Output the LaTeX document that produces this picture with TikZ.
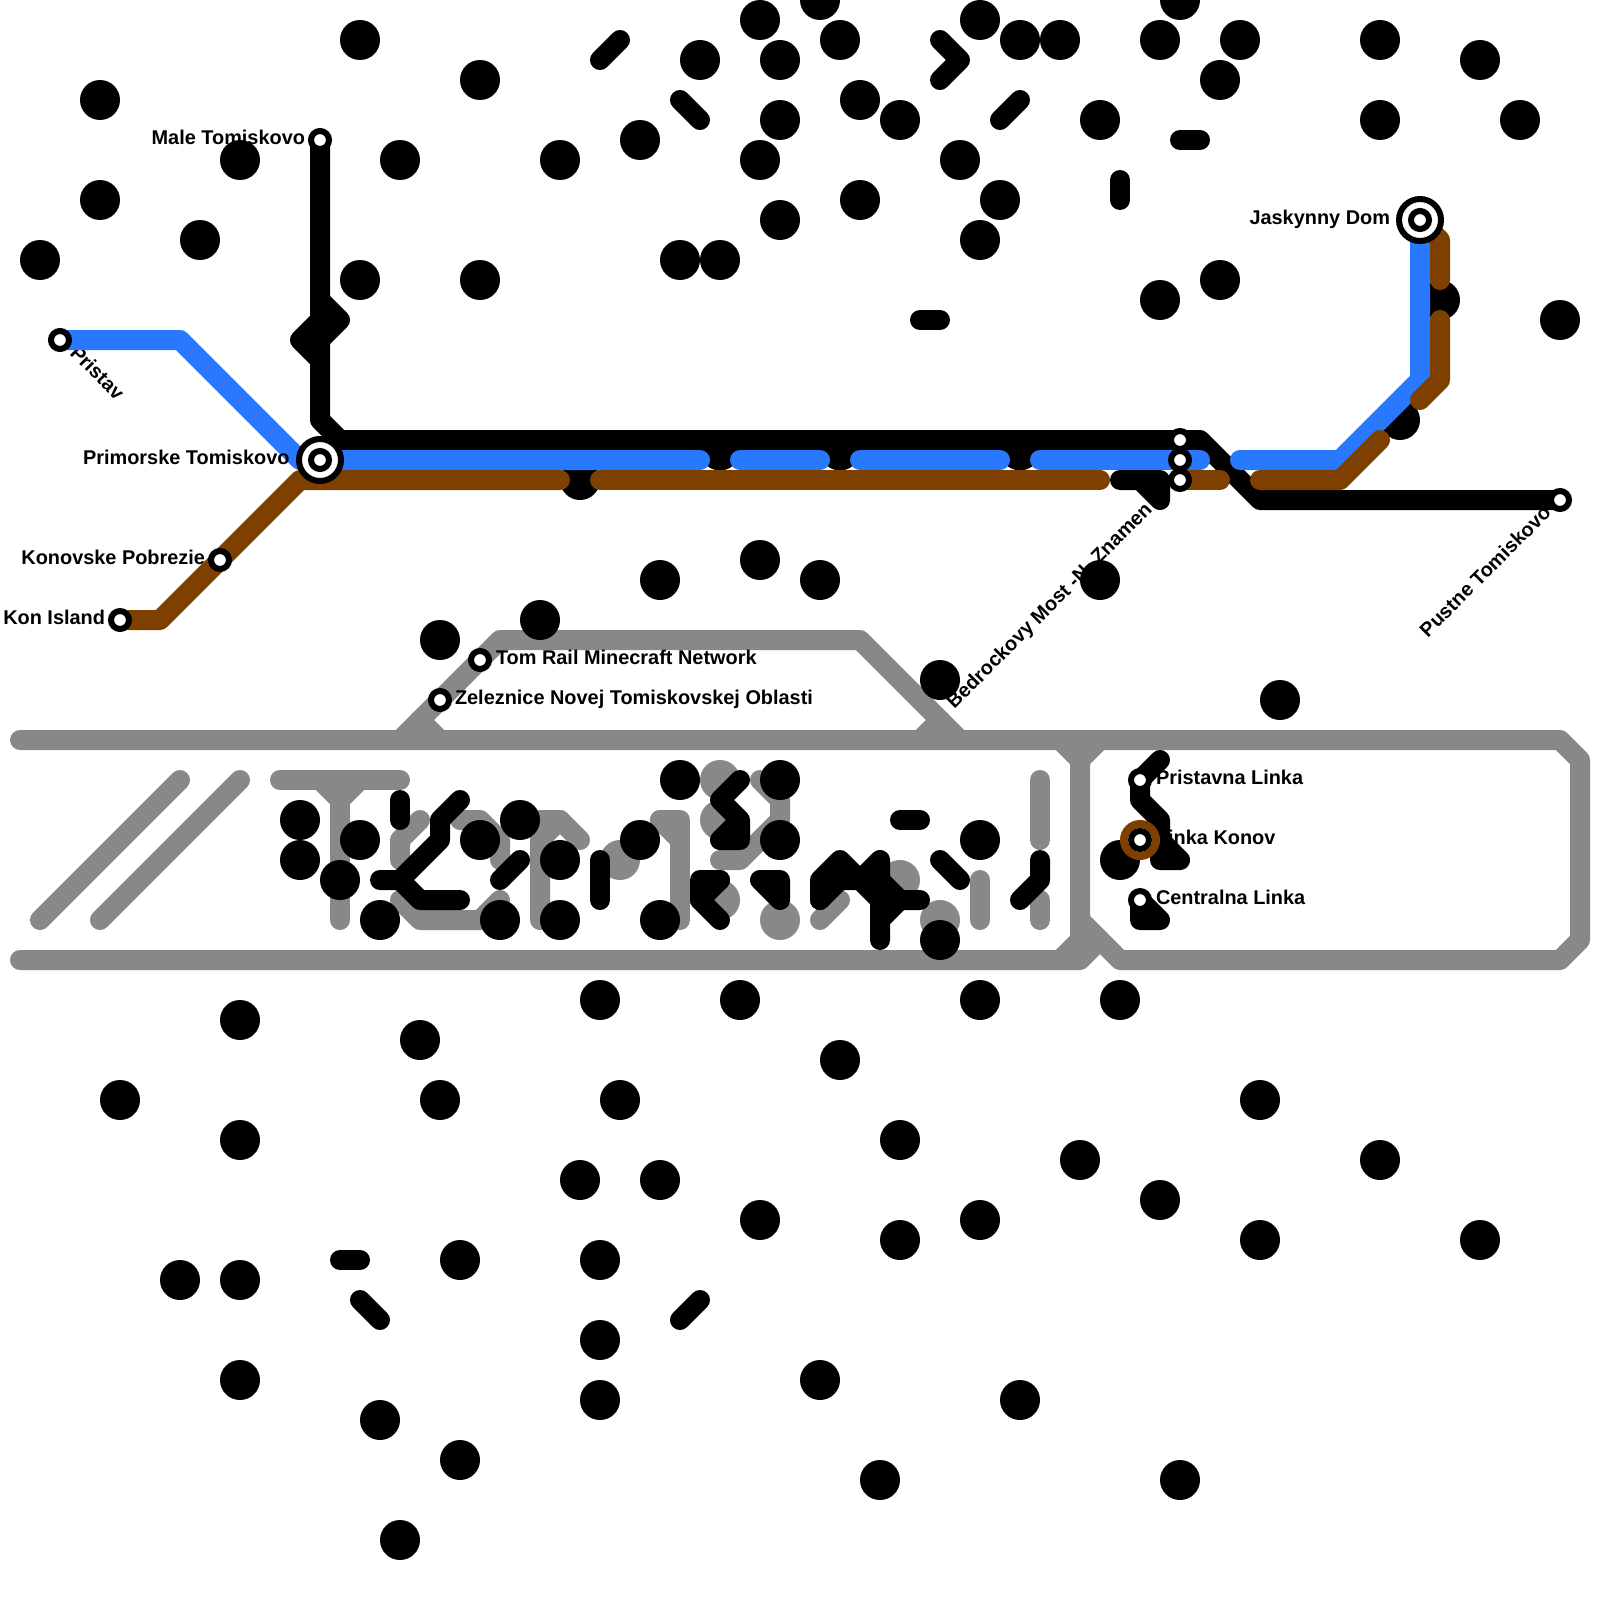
\documentclass[tikz,border=0pt]{standalone}
\usepackage{fontspec}
\setmainfont{Liberation Sans}[BoldFont={Liberation Sans Bold}]
\definecolor{lineblue}{HTML}{2979FF}
\definecolor{linebrown}{HTML}{7E4000}
\definecolor{linegray}{HTML}{888888}
\tikzset{
  trk/.style={line width=10pt,line cap=round,line join=round},
  graytrk/.style={trk,draw=linegray},
  blacktrk/.style={trk,draw=black},
  bluetrk/.style={trk,draw=lineblue},
  browntrk/.style={trk,draw=linebrown},
  halt/.style={circle,draw=black,fill=white,line width=3pt,minimum size=9pt,inner sep=0pt,outer sep=0pt},
  hubouter/.style={circle,draw=black,fill=white,line width=3pt,minimum size=21pt,inner sep=0pt,outer sep=0pt},
  konring/.style={circle,draw=linebrown,fill=white,line width=4pt,minimum size=16pt,inner sep=0pt,outer sep=0pt},
  lab/.style={font=\fontsize{9.95pt}{11pt}\selectfont\bfseries,inner sep=0pt,outer sep=0pt,text=black},
  labl/.style={lab,anchor=base east},
  labr/.style={lab,anchor=base west},
}
\begin{document}
\begin{tikzpicture}[x=0.5pt,y=-0.5pt]
\useasboundingbox (0,0) rectangle (1600,1600);
\clip (0,0) rectangle (1600,1600);
\fill[white] (0,0) rectangle (1600,1600);
% named stops
\coordinate (pristav) at (60,340);
\coordinate (male) at (320,140);
\coordinate (primorske) at (320,460);
\coordinate (konpob) at (220,560);
\coordinate (konisl) at (120,620);
\coordinate (jaskynny) at (1420,220);
\coordinate (pustne) at (1560,500);
\coordinate (bedA) at (1180,440);
\coordinate (bedB) at (1180,460);
\coordinate (bedC) at (1180,480);
\coordinate (tomrail) at (480,660);
\coordinate (zelez) at (440,700);
\coordinate (legP) at (1140,780);
\coordinate (legK) at (1140,840);
\coordinate (legC) at (1140,900);
% gray dots
\foreach \x/\y in {36/39,36/41,31/43,36/45,39/46,45/44,47/46}
  \fill[linegray] ({20*\x},{20*\y}) circle[radius=10pt];
% gray network
\draw[graytrk] (20,740) -- (1560,740) -- (1580,760) -- (1580,940) -- (1560,960) -- (1120,960) -- (1080,920);
\draw[graytrk] (20,960) -- (1080,960) -- (1100,940);
\draw[graytrk] (1060,740) -- (1080,760) -- (1080,940) -- (1060,960);
\draw[graytrk] (1080,760) -- (1100,740);
\draw[graytrk] (400,740) -- (500,640) -- (860,640) -- (960,740);
\draw[graytrk] (420,720) -- (440,740);
\draw[graytrk] (940,720) -- (920,740);
\draw[graytrk] (40,920) -- (180,780);
\draw[graytrk] (100,920) -- (240,780);
\draw[graytrk] (280,780) -- (400,780);
\draw[graytrk] (320,780) -- (340,800) -- (360,780);
\draw[graytrk] (340,800) -- (340,920);
\draw[graytrk] (420,820) -- (400,840) -- (400,860);
\draw[graytrk] (400,900) -- (420,920) -- (480,920) -- (500,900);
\draw[graytrk] (460,820) -- (480,820) -- (500,840) -- (500,860);
\draw[graytrk] (540,920) -- (540,820) -- (560,820) -- (580,840);
\draw[graytrk] (540,840) -- (560,820);
\draw[graytrk] (660,820) -- (680,820) -- (680,920);
\draw[graytrk] (660,820) -- (680,840);
\draw[graytrk] (760,780) -- (780,800) -- (780,820) -- (740,860) -- (720,860);
\draw[graytrk] (1040,780) -- (1040,840);
\draw[graytrk] (1040,900) -- (1040,920);
\draw[graytrk] (980,880) -- (980,920);
\draw[graytrk] (820,920) -- (840,900);
% labels
\node[labl] (tMale) at (305,144) {Male Tomiskovo};
\node[labl] (tKonP) at (205,564) {Konovske Pobrezie};
\node[labl] (tKonI) at (105,624) {Kon Island};
\node[labl] (tJask) at (1390,224) {Jaskynny Dom};
\node[labr] (tTom) at (496,664) {Tom Rail Minecraft Network};
\node[labr] (tZel) at (455,704) {Zeleznice Novej Tomiskovskej Oblasti};
\node[labr] (tLegP) at (1156,784) {Pristavna Linka};
\node[labr] (tLegK) at (1156,844) {Linka Konov};
\node[labr] (tLegC) at (1156,904) {Centralna Linka};
\node[labr,rotate=-45] (tPris) at (69,354) {Pristav};
\node[labl,rotate=45] (tPust) at (1552,514) {Pustne Tomiskovo};
\node[labl,rotate=45] (tBed) at (1153,511) {Bedrockovy Most -N- Znamen};
% black dots
\foreach \x/\y in {
 18/2,5/5,5/10,2/13,10/12,12/8,20/8,18/14,24/4,24/14,28/8,32/7,35/3,38/1,39/3,39/6,38/8,39/11,34/13,36/13,
 41/0,42/2,43/5,43/10,45/6,48/8,50/10,49/12,49/1,51/2,53/2,55/6,58/2,59/0,62/2,61/4,58/15,61/14,69/2,69/6,
 74/3,76/6,78/16,72/15,70/21,29/24,
 33/29,38/28,41/29,55/29,27/31,22/32,47/34,64/35,
 15/41,15/43,18/42,17/44,19/46,24/42,26/41,25/46,28/43,28/46,34/39,39/39,39/42,32/42,33/46,49/42,47/47,56/43,
 30/50,37/50,49/50,56/50,12/51,21/52,42/53,6/55,22/55,31/55,12/57,45/57,63/55,54/58,69/58,29/59,33/59,58/60,
 38/61,49/61,45/62,63/62,74/62,23/63,30/63,9/64,12/64,30/67,12/69,41/69,30/70,51/70,19/71,23/73,44/74,59/74,20/77}
  \fill[black] ({20*\x},{20*\y}) circle[radius=10pt];
% dots showing through the gaps of the blue line
\foreach \x in {720,840,1020}
  \fill[black] (\x,450.5) circle[radius=10pt];
% short black strokes, upper field
\draw[blacktrk] (600,60) -- (620,40);
\draw[blacktrk] (680,100) -- (700,120);
\draw[blacktrk] (940,40) -- (960,60) -- (940,80);
\draw[blacktrk] (1000,120) -- (1020,100);
\draw[blacktrk] (1180,140) -- (1200,140);
\draw[blacktrk] (1120,180) -- (1120,200);
\draw[blacktrk] (920,320) -- (940,320);
% short black strokes, lower field
\draw[blacktrk] (340,1260) -- (360,1260);
\draw[blacktrk] (360,1300) -- (380,1320);
\draw[blacktrk] (680,1320) -- (700,1300);
% black letters in the band
\draw[blacktrk] (400,800) -- (400,820);
\draw[blacktrk] (460,800) -- (440,820) -- (440,840) -- (400,880) -- (380,880);
\draw[blacktrk] (400,880) -- (420,900) -- (460,900);
\draw[blacktrk] (500,880) -- (520,860);
\draw[blacktrk] (600,860) -- (600,900);
\draw[blacktrk] (740,780) -- (720,800) -- (740,820) -- (740,840) -- (720,840) -- (740,820);
\draw[blacktrk] (720,880) -- (700,880) -- (700,900) -- (720,920);
\draw[blacktrk] (700,900) -- (720,880);
\draw[blacktrk] (760,880) -- (780,880) -- (780,900) -- cycle;
\draw[blacktrk] (820,900) -- (840,880) -- (860,880) -- (880,900) -- (920,900);
\draw[blacktrk] (820,900) -- (820,880) -- (840,860) -- (860,880) -- (880,860) -- (880,940);
\draw[blacktrk] (880,880) -- (900,900) -- (880,920);
\draw[blacktrk] (900,820) -- (920,820);
\draw[blacktrk] (940,860) -- (960,880);
\draw[blacktrk] (1040,860) -- (1040,880) -- (1020,900);
% legend strokes
\draw[blacktrk] (1160,760) -- (legP) -- (1140,800) -- (1160,820) -- (1160,860) -- (1180,860) -- (1160,840);
\draw[blacktrk] (legC) -- (1140,920) -- (1160,920) -- cycle;
% black junction at the top of the main line
\draw[blacktrk] (320,300) -- (340,320) -- (320,340);
\draw[blacktrk] (320,320) -- (300,340) -- (320,360);
\draw[blacktrk] (1120,480) -- (1160,480) -- (1160,500) -- (1140,480);
% main lines
\draw[blacktrk] (male) -- (320,420) -- (340,440) -- (1200,440) -- (1260,500) -- (pustne);
\draw[bluetrk] (pristav) -- (180,340) -- (300,460) -- (700,460);
\draw[bluetrk] (740,460) -- (820,460);
\draw[bluetrk] (860,460) -- (1000,460);
\draw[bluetrk] (1040,460) -- (1200,460);
\draw[bluetrk] (1240,460) -- (1340,460) -- (1420,380) -- (jaskynny);
\draw[browntrk] (konisl) -- (160,620) -- (300,480) -- (560,480);
\draw[browntrk] (600,480) -- (1100,480);
\draw[browntrk] (bedC) -- (1220,480);
\draw[browntrk] (1260,480) -- (1340,480) -- (1380,440);
\draw[browntrk] (1420,400) -- (1440,380) -- (1440,320);
\draw[browntrk] (jaskynny) -- (1440,240) -- (1440,280);
\node[labl] (tPrim) at (289.5,464) {Primorske Tomiskovo};
% stations
\node[halt] (nPris) at (pristav) {};
\node[halt] (nMale) at (male) {};
\node[halt] (nKonP) at (konpob) {};
\node[halt] (nKonI) at (konisl) {};
\node[halt] (nPust) at (pustne) {};
\node[halt] (nBedA) at (bedA) {};
\node[halt] (nBedB) at (bedB) {};
\node[halt] (nBedC) at (bedC) {};
\node[halt] (nTom) at (tomrail) {};
\node[halt] (nZel) at (zelez) {};
\node[hubouter] (nPrimO) at (primorske) {};
\node[halt] (nPrimI) at (primorske) {};
\node[hubouter] (nJaskO) at (jaskynny) {};
\node[halt] (nJaskI) at (jaskynny) {};
\node[halt] (nLegP) at (legP) {};
\node[konring] (nLegKO) at (legK) {};
\node[halt] (nLegK) at (legK) {};
\node[halt] (nLegC) at (legC) {};
\end{tikzpicture}
\end{document}
